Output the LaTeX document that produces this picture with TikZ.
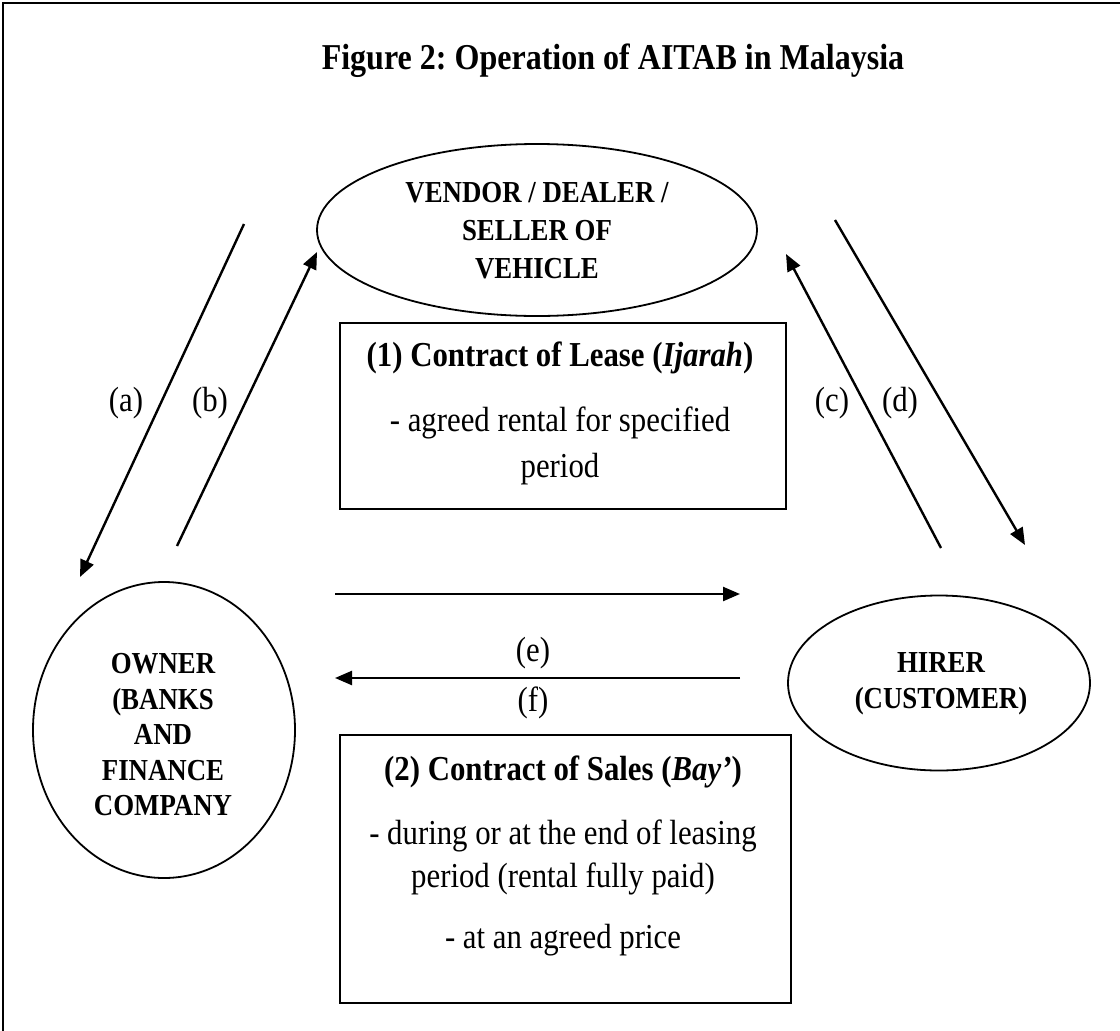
\documentclass[tikz,border=0pt]{standalone}
\usepackage{fontspec}
\setmainfont{Liberation Serif}[FakeStretch=0.88]
\usetikzlibrary{shapes.geometric,arrows.meta}
\begin{document}
\frenchspacing
\begin{tikzpicture}[x=1pt,y=-1pt,
  shapeline/.style={draw=black,line width=1.8pt},
  oval/.style={shapeline,ellipse,inner sep=0pt},
  boxnode/.style={shapeline,rectangle,inner sep=0pt},
  flow/.style={line width=2.4pt,-{Triangle[length=17pt,width=14pt]}},
  bodytxt/.style={font=\fontsize{35}{40}\selectfont,anchor=base,inner sep=0pt},
  headtxt/.style={font=\fontsize{35}{40}\selectfont\bfseries,anchor=base,inner sep=0pt},
  ovaltxt/.style={font=\fontsize{30.5}{38}\selectfont\bfseries,align=center,inner sep=0pt},
  lbl/.style={font=\fontsize{35}{40}\selectfont,inner sep=0pt}]
\useasboundingbox (0,0) rectangle (1120,1031);
\fill[white] (0,0) rectangle (1120,1031);
% frame (only left and top edges visible)
\draw[line width=2pt] (3,1031) -- (3,3) -- (1120,3);
% title
\node[font=\fontsize{36.4}{42}\selectfont\bfseries,anchor=base,inner sep=0pt] (title) at (613,69) {Figure 2: Operation of AITAB in Malaysia};
% ellipses
\node[oval,minimum width=440pt,minimum height=172pt] (vendor) at (537,230) {};
\node[ovaltxt] (vendortxt) at (537,231) {VENDOR / DEALER /\\SELLER OF\\VEHICLE};
\node[oval,minimum width=262pt,minimum height=296pt] (owner) at (164,730) {};
\node[ovaltxt,font=\fontsize{30.5}{35.5}\selectfont\bfseries] (ownertxt) at (163,735) {OWNER\\(BANKS\\AND\\FINANCE\\COMPANY};
\node[oval,minimum width=302pt,minimum height=175pt] (hirer) at (939,683) {};
\node[ovaltxt,font=\fontsize{30.5}{35.5}\selectfont\bfseries] (hirertxt) at (941,684) {HIRER\\(CUSTOMER)};
% box 1
\node[boxnode,minimum width=446pt,minimum height=186pt] (box1) at (563,416) {};
\node[headtxt] (b1h) at (560,366) {(1) Contract of Lease (\textit{Ijarah})};
\node[bodytxt] (b1a) at (560,431) {- agreed rental for specified};
\node[bodytxt] (b1b) at (560,477) {period};
% box 2
\node[boxnode,minimum width=451pt,minimum height=268pt] (box2) at (565.5,869) {};
\node[headtxt] (b2h) at (563,780) {(2) Contract of Sales (\textit{Bay’})};
\node[bodytxt] (b2a) at (563,844) {- during or at the end of leasing};
\node[bodytxt] (b2b) at (563,887) {period (rental fully paid)};
\node[bodytxt] (b2c) at (563,948) {- at an agreed price};
% arrow end points
\coordinate (a1) at (244,224); \coordinate (a2) at (80,577);
\coordinate (b1) at (177,546); \coordinate (b2) at (317,252);
\coordinate (c1) at (941,548); \coordinate (c2) at (786,254);
\coordinate (d1) at (835,220); \coordinate (d2) at (1025,545);
\coordinate (e1) at (335,594); \coordinate (e2) at (740,594);
\coordinate (f1) at (740,678); \coordinate (f2) at (335,678);
\draw[flow] (a1) -- (a2);
\draw[flow] (b1) -- (b2);
\draw[flow] (c1) -- (c2);
\draw[flow] (d1) -- (d2);
\draw[flow] (e1) -- (e2);
\draw[flow] (f1) -- (f2);
% labels
\node[lbl] (la) at (126,403) {(a)};
\node[lbl] (lb) at (210,403) {(b)};
\node[lbl] (lc) at (832,403) {(c)};
\node[lbl] (ld) at (900,403) {(d)};
\node[lbl] (le) at (533,653) {(e)};
\node[lbl] (lf) at (533,703) {(f)};
\end{tikzpicture}
\end{document}
